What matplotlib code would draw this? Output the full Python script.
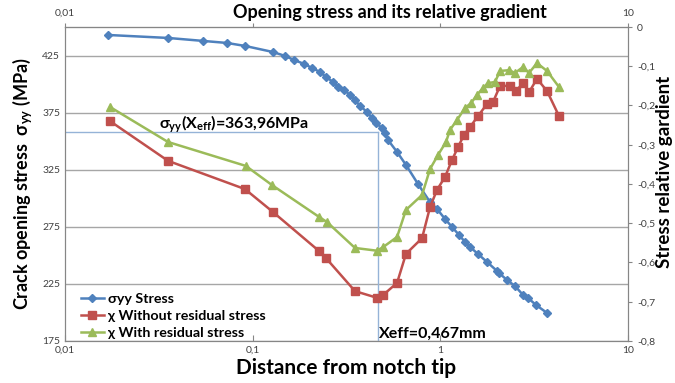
import matplotlib
matplotlib.use("Agg")
import matplotlib.pyplot as plt
from matplotlib.ticker import FixedLocator, NullLocator

plt.rcParams['font.family'] = ['Lato', 'DejaVu Sans']
plt.rcParams['mathtext.fontset'] = 'custom'
plt.rcParams['mathtext.rm'] = 'Lato'
plt.rcParams['mathtext.bf'] = 'Lato:bold'
plt.rcParams['mathtext.it'] = 'Lato:italic'

# sigma_yy stress (left axis, MPa)
x_stress = [0.017, 0.0354, 0.0544, 0.073, 0.091, 0.128, 0.149, 0.166, 0.188, 0.207,
            0.228, 0.246, 0.268, 0.285, 0.307, 0.330, 0.351, 0.373, 0.407, 0.432,
            0.454, 0.489, 0.507, 0.526, 0.588, 0.656, 0.760, 0.881, 0.960, 1.059,
            1.154, 1.258, 1.354, 1.439, 1.587, 1.773, 2.005, 2.054, 2.266, 2.499,
            2.757, 2.932, 3.233, 3.702]
stress = [443.4, 440.8, 438.2, 436.4, 433.8, 428.5, 425.0, 421.5, 418.0, 414.5,
          411.0, 406.6, 402.2, 397.8, 395.2, 390.8, 386.4, 381.1, 375.9, 370.6,
          366.2, 361.8, 357.5, 351.3, 340.8, 329.4, 312.7, 296.9, 290.8, 282.0,
          275.0, 268.0, 261.8, 257.5, 251.3, 244.3, 236.4, 234.6, 228.5, 223.2,
          215.4, 212.7, 206.6, 199.6]

# relative gradient without residual stress (right axis)
x_chi_no = [0.0174, 0.0354, 0.091, 0.128, 0.226, 0.246, 0.351, 0.460, 0.495, 0.588,
            0.656, 0.799, 0.881, 0.960, 1.059, 1.154, 1.242, 1.337, 1.439, 1.587,
            1.773, 1.909, 2.080, 2.351, 2.530, 2.757, 2.968, 3.274, 3.702, 4.289]
chi_no = [-0.240, -0.341, -0.413, -0.471, -0.571, -0.589, -0.673, -0.690, -0.683, -0.652,
          -0.578, -0.538, -0.459, -0.415, -0.382, -0.339, -0.306, -0.275, -0.255, -0.227,
          -0.196, -0.191, -0.150, -0.150, -0.163, -0.143, -0.166, -0.132, -0.163, -0.227]

# relative gradient with residual stress (right axis)
x_chi_res = [0.0174, 0.0354, 0.092, 0.127, 0.226, 0.249, 0.351, 0.460, 0.495, 0.588,
             0.656, 0.799, 0.881, 0.972, 1.072, 1.126, 1.227, 1.354, 1.457, 1.568,
             1.688, 1.795, 1.956, 2.080, 2.322, 2.499, 2.757, 2.968, 3.274, 3.702, 4.289]
chi_res = [-0.204, -0.293, -0.354, -0.403, -0.484, -0.497, -0.563, -0.570, -0.561, -0.535,
           -0.466, -0.428, -0.362, -0.326, -0.293, -0.262, -0.237, -0.206, -0.194, -0.173,
           -0.155, -0.143, -0.140, -0.112, -0.110, -0.117, -0.102, -0.117, -0.092, -0.112, -0.153]

x_eff = 0.467
sigma_eff_line = 358
left_ticks = [175, 225, 275, 325, 375, 425]
right_ticks = [0, -0.1, -0.2, -0.3, -0.4, -0.5, -0.6, -0.7, -0.8]
right_labels = ['0', '-0,1', '-0,2', '-0,3', '-0,4', '-0,5', '-0,6', '-0,7', '-0,8']
x_ticks = [0.01, 0.1, 1, 10]
x_labels = ['0,01', '0,1', '1', '10']

blue = '#4F81BD'
red = '#C0504D'
green = '#9BBB59'
guide = '#95B3D7'
gray = '#868686'

fig = plt.figure(figsize=(6.75, 3.83), dpi=100)
fig.subplots_adjust(left=0.0963, right=0.9304, top=0.9295, bottom=0.1097)
ax = fig.add_subplot(111)
ax2 = ax.twinx()

ax.set_xscale('log')
ax.set_xlim(0.01, 10)
ax.set_ylim(175, 450.4)
ax2.set_ylim(-0.8, 0)

ax.yaxis.set_major_locator(FixedLocator(left_ticks))
ax.grid(axis='y', color='#A6A6A6', lw=1)
ax.set_axisbelow(True)
ax.xaxis.set_major_locator(FixedLocator(x_ticks))
ax.xaxis.set_minor_locator(NullLocator())
ax.set_xticklabels(x_labels)
ax2.set_yticks(right_ticks)
ax2.set_yticklabels(right_labels)

for a in (ax, ax2):
    for s in a.spines.values():
        s.set_color(gray)
    a.tick_params(colors=gray, labelcolor='#404040', labelsize=7.5, length=3, width=0.8)
ax.tick_params(axis='y', length=0)
ax.tick_params(axis='x', direction='in', length=4)

top = ax.secondary_xaxis('top')
top.set_xticks(x_ticks)
top.set_xticklabels(['0,01', '', '', '10'])
top.xaxis.set_minor_locator(NullLocator())
top.tick_params(colors=gray, labelcolor='#404040', labelsize=7.5, length=3, width=0.8)
top.spines['top'].set_color(gray)

# guide lines at x_eff
ax.plot([0.01, x_eff], [sigma_eff_line, sigma_eff_line], color=guide, lw=1, zorder=1)
ax.plot([x_eff, x_eff], [175, sigma_eff_line], color=guide, lw=1, zorder=1)

l1, = ax.plot(x_stress, stress, color=blue, lw=1.8, marker='D', ms=4.3, label='σyy Stress')
l2, = ax2.plot(x_chi_no, chi_no, color=red, lw=1.8, marker='s', ms=5.5,
               label='χ Without residual stress')
l3, = ax2.plot(x_chi_res, chi_res, color=green, lw=1.8, marker='^', ms=5.5,
               label='χ With residual stress')

ax.legend(handles=[l1, l2, l3], loc='lower left', bbox_to_anchor=(0.005, -0.035), frameon=False,
          prop={'weight': 'bold', 'size': 10.3}, handlelength=1.6, handletextpad=0.3,
          labelspacing=0.35)

ax.set_xlabel('Distance from notch tip', fontsize=15, fontweight='bold', labelpad=2)
ax.set_ylabel(r'Crack opening stress  σ$_{\mathbf{yy}}$ (MPa)', fontsize=13,
              fontweight='bold', labelpad=5)
fig.text(0.984, 0.551, 'Stress relative gardient', rotation=90, ha='center', va='center',
         fontsize=13.5, fontweight='bold')

fig.text(0.578, 0.967, 'Opening stress and its relative gradient', ha='center', va='center',
         fontsize=13, fontweight='bold')

ax.text(0.0315, 356, r'σ$_{\mathbf{yy}}$(X$_{\mathbf{eff}}$)=363,96MPa', fontsize=11.5,
        fontweight='bold', va='bottom')
ax.text(x_eff * 1.01, 175.5, 'Xeff=0,467mm', fontsize=11.5, fontweight='bold', va='bottom')

fig.savefig('out.png', dpi=100)
